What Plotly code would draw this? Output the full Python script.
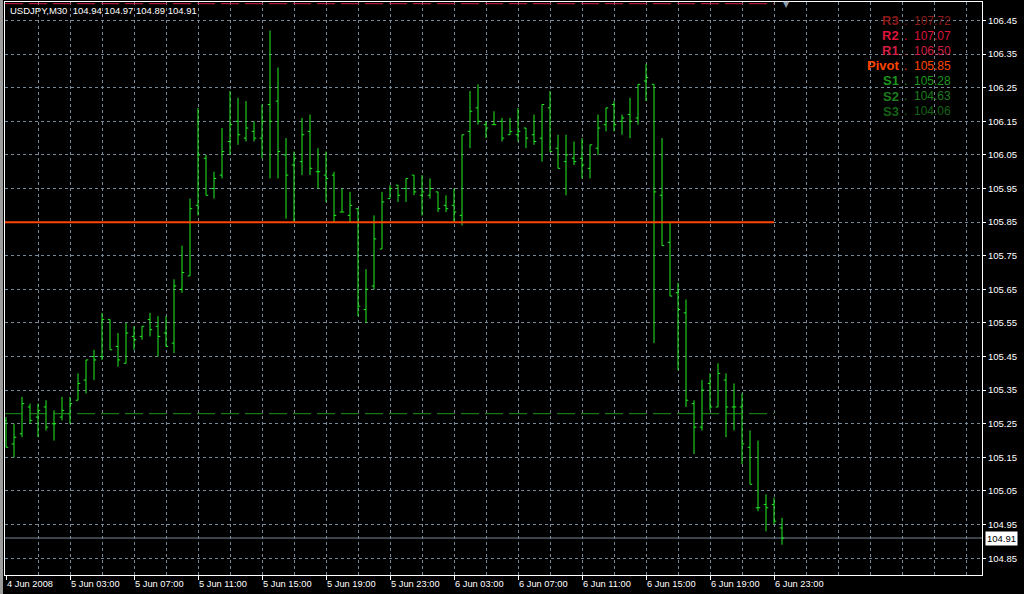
import plotly.graph_objects as go
import pandas as pd

# ---------------- data ----------------
symbol = "USDJPY,M30"
bar_times = pd.date_range("2008-06-04 23:00", periods=98, freq="30min")

opens = [105.26, 105.19, 105.22, 105.30, 105.27, 105.30, 105.25, 105.27, 105.28, 105.32,
         105.38, 105.45, 105.45, 105.56, 105.48, 105.43, 105.51, 105.51, 105.56, 105.54,
         105.52, 105.49, 105.65, 105.69, 105.90, 106.04, 105.95, 105.99, 106.09, 106.15,
         106.10, 106.12, 106.10, 106.20, 106.21, 106.05, 106.02, 106.03, 106.12, 106.00,
         105.99, 105.99, 105.88, 105.87, 105.89, 105.59, 105.66, 105.77, 105.92, 105.96,
         105.95, 105.99, 105.93, 105.93, 105.94, 105.90, 105.90, 105.87, 106.12, 106.19,
         106.14, 106.14, 106.15, 106.11, 106.11, 106.13, 106.11, 106.10, 106.19, 106.07,
         106.03, 106.04, 106.04, 106.01, 106.07, 106.14, 106.20, 106.15, 106.17, 106.16,
         106.27, 106.26, 105.93, 105.79, 105.64, 105.58, 105.31, 105.24, 105.37, 105.30,
         105.38, 105.30, 105.30, 105.18, 105.00, 105.01, 105.01, 104.94]
highs = [105.27, 105.25, 105.33, 105.31, 105.31, 105.32, 105.29, 105.33, 105.33, 105.40,
         105.44, 105.47, 105.58, 105.56, 105.52, 105.55, 105.54, 105.54, 105.58, 105.57,
         105.57, 105.68, 105.78, 105.92, 106.19, 106.05, 106.00, 106.13, 106.24, 106.22,
         106.21, 106.15, 106.20, 106.42, 106.31, 106.10, 106.06, 106.16, 106.17, 106.07,
         106.06, 106.00, 105.95, 105.94, 105.89, 105.71, 105.87, 105.94, 105.96, 105.96,
         105.98, 105.99, 105.99, 105.98, 105.94, 105.93, 105.95, 106.11, 106.24, 106.26,
         106.15, 106.18, 106.16, 106.16, 106.19, 106.13, 106.17, 106.20, 106.24, 106.11,
         106.11, 106.09, 106.10, 106.08, 106.17, 106.19, 106.21, 106.17, 106.22, 106.26,
         106.32, 106.26, 106.10, 105.85, 105.67, 105.62, 105.32, 105.38, 105.40, 105.43,
         105.40, 105.37, 105.34, 105.23, 105.20, 105.04, 105.03, 104.97]
lows = [105.18, 105.15, 105.21, 105.25, 105.21, 105.23, 105.20, 105.26, 105.25, 105.32,
        105.34, 105.38, 105.44, 105.47, 105.42, 105.43, 105.47, 105.50, 105.51, 105.45,
        105.48, 105.46, 105.64, 105.69, 105.87, 105.93, 105.92, 105.98, 106.05, 106.08,
        106.09, 106.09, 106.04, 105.98, 105.98, 105.86, 105.85, 105.99, 105.99, 105.95,
        105.91, 105.85, 105.88, 105.85, 105.57, 105.55, 105.65, 105.77, 105.92, 105.91,
        105.91, 105.93, 105.87, 105.92, 105.88, 105.88, 105.85, 105.84, 106.07, 106.14,
        106.10, 106.14, 106.09, 106.11, 106.09, 106.07, 106.08, 106.03, 106.06, 106.01,
        105.93, 106.02, 105.98, 105.98, 106.05, 106.12, 106.12, 106.11, 106.10, 106.14,
        106.21, 105.49, 105.78, 105.63, 105.41, 105.30, 105.16, 105.23, 105.29, 105.30,
        105.21, 105.23, 105.13, 105.07, 104.99, 104.93, 104.95, 104.89]
closes = [105.18, 105.21, 105.31, 105.26, 105.29, 105.24, 105.25, 105.29, 105.31, 105.37,
          105.44, 105.44, 105.56, 105.47, 105.44, 105.52, 105.50, 105.54, 105.53, 105.51,
          105.48, 105.66, 105.70, 105.89, 106.05, 105.93, 105.98, 106.06, 106.14, 106.11,
          106.13, 106.10, 106.15, 106.15, 106.06, 105.99, 106.04, 106.11, 106.01, 106.00,
          105.98, 105.87, 105.88, 105.90, 105.60, 105.65, 105.80, 105.91, 105.95, 105.93,
          105.98, 105.94, 105.94, 105.95, 105.89, 105.89, 105.88, 106.11, 106.18, 106.15,
          106.13, 106.14, 106.10, 106.12, 106.12, 106.10, 106.09, 106.20, 106.06, 106.01,
          106.05, 106.03, 106.02, 106.08, 106.13, 106.19, 106.14, 106.16, 106.15, 106.26,
          106.28, 105.94, 105.78, 105.63, 105.59, 105.32, 105.24, 105.35, 105.30, 105.40,
          105.30, 105.30, 105.19, 105.07, 105.00, 105.00, 104.96, 104.91]

pivot_names = ["R3", "R2", "R1", "Pivot", "S1", "S2", "S3"]
pivot_values = [107.72, 107.07, 106.50, 105.85, 105.28, 104.63, 104.06]
pivot_colors = ["#8b1a1a", "#dc143c", "#d21e42", "#ff4500", "#1c961c", "#1f7d1f", "#166316"]
pivot_line_end_time = "2008-06-06 23:00"

y_tick_labels = ["104.85", "104.95", "105.05", "105.15", "105.25", "105.35", "105.45",
                 "105.55", "105.65", "105.75", "105.85", "105.95", "106.05", "106.15",
                 "106.25", "106.35", "106.45"]

# ---------------- style ----------------
BG = "#000000"
GRID = "#778899"
BAR = "#22ee22"
FONT = "Liberation Sans, Arial, sans-serif"
W, H = 1024, 594
ML, MR, MT, MB = 5, 42, 2, 19
PW, PH = W - ML - MR, H - MT - MB
BAR_PX = 8.0

idx = list(range(len(opens)))
x_left = -0.125
x_right = x_left + PW / BAR_PX

# tick labels every 8 bars, grid every 4 bars
major_vals, major_text = [], []
for i, t in enumerate(bar_times):
    if i % 8 == 0:
        major_vals.append(i)
        major_text.append(f"{t.day} {t:%b} {t.year}" if i == 0 else f"{t.day} {t:%b} {t:%H:%M}")
minor_vals = [k for k in range(0, int(x_right) + 1, 4) if k not in major_vals]

fig = go.Figure()
fig.add_trace(go.Ohlc(
    x=idx, open=opens, high=highs, low=lows, close=closes,
    increasing=dict(line=dict(color=BAR, width=1)),
    decreasing=dict(line=dict(color=BAR, width=1)),
    tickwidth=0.28, hoverinfo="skip", showlegend=False,
))

end_idx = list(bar_times).index(pd.Timestamp(pivot_line_end_time))
for name, val, col in zip(pivot_names, pivot_values, pivot_colors):
    if name == "Pivot":
        line = dict(color=col, width=2)
    else:
        line = dict(color=col, width=1, dash="18px,6px")
    fig.add_trace(go.Scatter(x=[x_left, end_idx], y=[val, val], mode="lines",
                             line=line, hoverinfo="skip", showlegend=False))

last_close = closes[-1]
fig.add_shape(type="line", xref="paper", x0=0, x1=1, yref="y", y0=last_close, y1=last_close,
              line=dict(color=GRID, width=1), layer="below")

# left window frame strip
fig.add_shape(type="rect", xref="paper", x0=-5 / PW, x1=-2 / PW, yref="paper", y0=-MB / PH, y1=1 + MT / PH,
              fillcolor="#9c9c9c", line=dict(width=0))

annotations = []
# header
annotations.append(dict(
    xref="paper", yref="paper", x=3 / PW, y=1 - 8.5 / PH, xanchor="left", yanchor="middle",
    text=f"{symbol}  {opens[-1]:.2f} {highs[-1]:.2f} {lows[-1]:.2f} {closes[-1]:.2f}",
    showarrow=False, font=dict(family=FONT, size=9.5, color="white")))

# pivot labels block
for k, (name, val, col) in enumerate(zip(pivot_names, pivot_values, pivot_colors)):
    py = 20.5 + 15.1 * k
    yp = 1 - (py - MT) / PH
    annotations.append(dict(
        xref="paper", yref="paper", x=(901 - ML) / PW, y=yp, xanchor="right", yanchor="middle",
        text=f"<b>{name}</b>", showarrow=False, font=dict(family=FONT, size=13, color=col)))
    annotations.append(dict(
        xref="paper", yref="paper", x=(902 - ML) / PW, y=yp, xanchor="left", yanchor="middle",
        text=f".  {val:.2f}", showarrow=False, font=dict(family=FONT, size=12, color=col)))

# current price box
annotations.append(dict(
    xref="paper", yref="y", x=1, y=last_close, xanchor="left", yanchor="middle", xshift=3,
    text=f"{last_close:.2f}", showarrow=False, bgcolor="white", borderpad=1,
    font=dict(family=FONT, size=9.5, color="black")))

# chart shift marker
annotations.append(dict(
    xref="paper", yref="paper", x=(786 - ML) / PW, y=1 - 3 / PH, xanchor="center", yanchor="middle",
    text="▼", showarrow=False, font=dict(family="DejaVu Sans", size=8, color="#8a9aa8")))

fig.update_layout(
    width=W, height=H,
    margin=dict(l=ML, r=MR, t=MT, b=MB, pad=0),
    paper_bgcolor=BG, plot_bgcolor=BG,
    showlegend=False, hovermode=False,
    annotations=annotations,
    xaxis=dict(
        range=[x_left, x_right], rangeslider=dict(visible=False),
        tickmode="array", tickvals=major_vals, ticktext=major_text,
        ticklabelposition="outside right",
        ticks="outside", ticklen=4, tickcolor="white", tickwidth=1,
        tickfont=dict(family=FONT, size=9.3, color="white"),
        showgrid=True, gridcolor=GRID, griddash="3px,3px", gridwidth=1,
        minor=dict(tickvals=minor_vals, showgrid=True, gridcolor=GRID, griddash="3px,3px",
                   gridwidth=1, ticks=""),
        showline=True, linecolor="white", linewidth=1, mirror=True,
        zeroline=False, fixedrange=True,
    ),
    yaxis=dict(
        range=[104.80, 106.505], side="right",
        tickmode="array", tickvals=[float(s) for s in y_tick_labels], ticktext=y_tick_labels,
        ticks="outside", ticklen=3, tickcolor="white", tickwidth=1,
        tickfont=dict(family=FONT, size=9.5, color="white"),
        showgrid=True, gridcolor=GRID, griddash="3px,3px", gridwidth=1,
        showline=True, linecolor="white", linewidth=1, mirror=True,
        zeroline=False, fixedrange=True,
    ),
)

fig.write_html(
    "out.html",
    config={"displayModeBar": False},
    post_script="document.body.style.margin='0';document.body.style.background='#000';",
)
